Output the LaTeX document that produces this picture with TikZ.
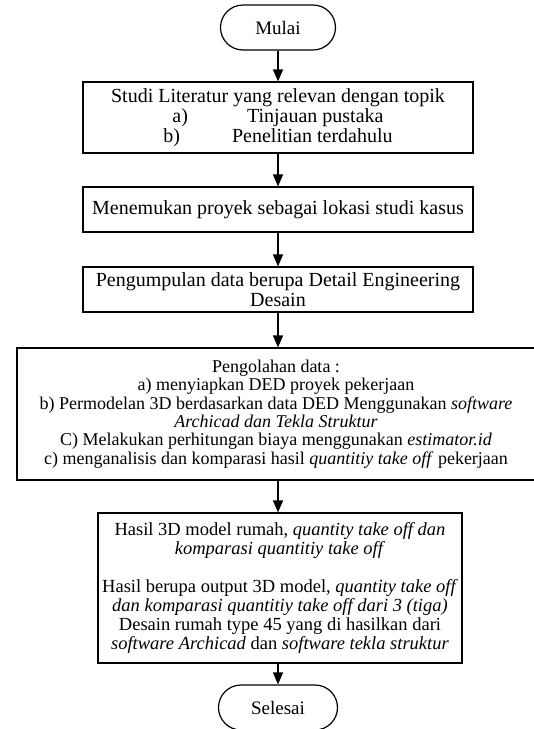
\documentclass[tikz,border=0pt]{standalone}
\usepackage{fontspec}
\setmainfont{Liberation Serif}
\usetikzlibrary{arrows.meta,shapes.misc}
\begin{document}
\begin{tikzpicture}[x=1pt,y=-1pt,
  box/.style={draw=black,line width=1.2pt,rectangle,inner sep=0pt,align=center},
  term/.style={draw=black,line width=1.2pt,rounded rectangle,inner sep=0pt,
    minimum height=45pt,font=\fontsize{19}{19}\selectfont},
  arr/.style={line width=1.5pt,-{Triangle[width=10pt,length=12pt]}},
  big/.style={font=\fontsize{20}{20}\selectfont},
  mid/.style={font=\fontsize{18}{18.4}\selectfont},
  res/.style={font=\fontsize{18.5}{19}\selectfont}]
\useasboundingbox (0,0) rectangle (534,729);
\fill[white] (0,0) rectangle (534,729);
\clip (0,0) rectangle (534,729);

\node[term,minimum width=115pt] (mulai) at (278,27.5) {Mulai};
\node[box,big,minimum width=390pt,minimum height=71pt] (b1) at (278,117.5)
  {Studi Literatur yang relevan dengan topik\\
   a)\hspace{59pt}Tinjauan pustaka\\
   b)\hspace{52pt}Penelitian terdahulu};
\node[box,big,minimum width=390pt,minimum height=45pt] (b2) at (278,209.5)
  {Menemukan proyek sebagai lokasi studi kasus};
\node[box,big,minimum width=390pt,minimum height=45pt] (b3) at (278,289.5)
  {Pengumpulan data berupa Detail Engineering\\ Desain};
\node[box,mid,minimum width=518pt,minimum height=132pt] (b4) at (276,414)
  {Pengolahan data :\\
   a) menyiapkan DED proyek pekerjaan\\
   b) Permodelan 3D berdasarkan data DED Menggunakan \textit{software}\\
   \textit{Archicad dan Tekla Struktur}\\
   C) Melakukan perhitungan biaya menggunakan \textit{estimator.id}\\
   c) menganalisis dan komparasi hasil \textit{quantitiy take off} pekerjaan};
\node[box,res,minimum width=364pt,minimum height=150pt] (b5) at (280,588)
  {Hasil 3D model rumah, \textit{quantity take off dan}\\
   \textit{komparasi quantitiy take off}\\
   \mbox{}\\
   Hasil berupa output 3D model, \textit{quantity take off}\\
   \textit{dan komparasi quantitiy take off dari 3 (tiga)}\\
   Desain rumah type 45 yang di hasilkan dari\\
   \textit{software Archicad} dan \textit{software tekla struktur}};
\node[term,minimum width=119pt] (selesai) at (278,707.5) {Selesai};

\draw[arr] (mulai.south) -- (b1.north);
\draw[arr] (b1.south) -- (b2.north);
\draw[arr] (b2.south) -- (b3.north);
\draw[arr] (b3.south) -- (b3.south |- b4.north);
\draw[arr] (b3.south |- b4.south) -- (b3.south |- b5.north);
\draw[arr] (b3.south |- b5.south) -- (selesai.north);
\end{tikzpicture}
\end{document}
